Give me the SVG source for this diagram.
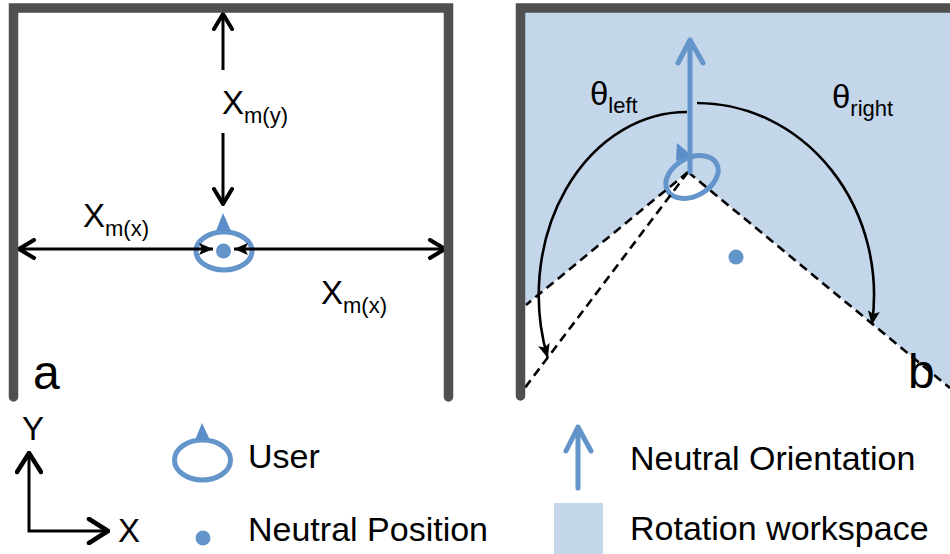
<svg xmlns="http://www.w3.org/2000/svg" width="950" height="554" viewBox="0 0 950 554">
<style>
  text { font-family: "Liberation Sans", Arial, sans-serif; fill: #000; }
  .wall { fill: none; stroke: #505050; stroke-width: 9.5; stroke-linejoin: miter; stroke-linecap: round; }
  .dim { fill: none; stroke: #000; stroke-width: 3; }
  .dash { fill: none; stroke: #000; stroke-width: 2.6; stroke-dasharray: 9 5.5; }
  .arc { fill: none; stroke: #000; stroke-width: 2.6; }
  .user { fill: none; stroke: #6394CA; stroke-width: 5; }
  .ptr { fill: #5B8EC9; }
  .dot { fill: #6394CA; }
  .orient { fill: none; stroke: #6394CA; stroke-width: 5; stroke-linecap: round; stroke-linejoin: round; }
  .ws { fill: #C4D6EA; }
  .big { font-size: 34px; }
  .main { font-size: 33px; }
  .sub { font-size: 22px; }
  .panel { font-size: 48px; }
</style>
<defs>
  <marker id="chev" viewBox="0 0 20 22" refX="18" refY="11" markerWidth="20" markerHeight="22" markerUnits="userSpaceOnUse" orient="auto-start-reverse">
    <path d="M3,2 L18,11 L3,20" fill="none" stroke="#000" stroke-width="4" stroke-linecap="round" stroke-linejoin="miter"/>
  </marker>
  <marker id="chevL" viewBox="0 0 24 28" refX="22" refY="14" markerWidth="24" markerHeight="28" markerUnits="userSpaceOnUse" orient="auto-start-reverse">
    <path d="M3,2 L22,14 L3,26" fill="none" stroke="#000" stroke-width="4.5" stroke-linecap="round" stroke-linejoin="miter"/>
  </marker>
  <marker id="stealth" viewBox="0 0 14 12" refX="14" refY="6" markerWidth="14" markerHeight="12" markerUnits="userSpaceOnUse" orient="auto-start-reverse">
    <path d="M0,0 L14,6 L0,12 L3,6 Z" fill="#000"/>
  </marker>
  <marker id="arcHead" viewBox="0 0 14 12" refX="13" refY="6" markerWidth="14" markerHeight="12" markerUnits="userSpaceOnUse" orient="auto">
    <path d="M0,0 L14,6 L0,12 L3,6 Z" fill="#000"/>
  </marker>
</defs>

<!-- Panel a -->
<g id="panel-a">
  <g id="a-user">
    <ellipse class="user" cx="224" cy="251" rx="28" ry="19"/>
    <polygon class="ptr" points="223,213 231,231 216,231"/>
    <circle class="dot" cx="223.5" cy="251" r="7.5"/>
  </g>
  <g id="a-connectors">
    <path class="dim" d="M223,70 L223,14" marker-end="url(#chev)"/>
    <path class="dim" d="M223,133 L223,204" marker-end="url(#chev)"/>
    <path class="dim" d="M19,249 L213,249" marker-start="url(#chev)" marker-end="url(#stealth)"/>
    <path class="dim" d="M445,249 L234,249" marker-start="url(#chev)" marker-end="url(#stealth)"/>
  </g>
  <g id="a-walls">
    <path class="wall" d="M13.5,397 L13.5,8 L448.5,8 L448.5,397"/>
  </g>
  <g id="a-labels">
    <text class="main" x="222" y="114">X<tspan class="sub" dy="9">m(y)</tspan></text>
    <text class="main" x="83" y="227">X<tspan class="sub" dy="9">m(x)</tspan></text>
    <text class="main" x="321" y="304">X<tspan class="sub" dy="9">m(x)</tspan></text>
    <text class="panel" x="33" y="389">a</text>
  </g>
</g>

<!-- Panel b -->
<g id="panel-b">
  <g id="b-workspace">
    <polygon class="ws" points="522,8 950,8 950,388 688,172 522,308"/>
  </g>
  <g id="b-user">
    <ellipse class="user" cx="692" cy="177" rx="28" ry="19" transform="rotate(-29 692 177)"/>
    <polygon class="ptr" points="677,143 691,155 676,161"/>
    <circle class="dot" cx="736" cy="257" r="7.5"/>
  </g>
  <g id="b-connectors">
    <path class="dash" d="M688,172 L526,305"/>
    <path class="dash" d="M688,172 L524,389"/>
    <path class="dash" d="M688,172 L950,388"/>
    <path class="arc" d="M687,112 A148,183 0 0,0 547.5,357" marker-end="url(#arcHead)"/>
    <path class="arc" d="M697,103 A177,192 0 0,1 872,324" marker-end="url(#arcHead)"/>
    <path class="orient" d="M690,172 L690,40 M678,63 L690,40 L703,63"/>
  </g>
  <g id="b-walls">
    <path class="wall" d="M520.5,396 L520.5,8 L960,8"/>
  </g>
  <g id="b-labels">
    <text class="main" x="590" y="105">θ<tspan class="sub" dy="8">left</tspan></text>
    <text class="main" x="832" y="108">θ<tspan class="sub" dy="8">right</tspan></text>
    <text class="panel" x="908" y="388">b</text>
  </g>
</g>

<!-- Legend -->
<g id="legend">
  <g id="legend-axes">
    <path class="dim" d="M29,453 L29,531 L108,531" marker-start="url(#chevL)" marker-end="url(#chevL)"/>
    <text class="main" x="22" y="440">Y</text>
    <text class="main" x="118" y="542">X</text>
  </g>
  <g id="legend-user">
    <ellipse class="user" cx="202.5" cy="460" rx="28" ry="20"/>
    <polygon class="ptr" points="202,423 210,440 195,440"/>
    <text class="big" x="248" y="468">User</text>
  </g>
  <g id="legend-position">
    <circle class="dot" cx="203" cy="538" r="7.5"/>
    <text class="big" x="248" y="541">Neutral Position</text>
  </g>
  <g id="legend-orientation">
    <path class="orient" d="M578,488 L578,427 M566,451 L578,427 L591,451"/>
    <text class="big" x="630" y="470">Neutral Orientation</text>
  </g>
  <g id="legend-workspace">
    <rect class="ws" x="554" y="503" width="49" height="51"/>
    <text class="big" x="630" y="540">Rotation workspace</text>
  </g>
</g>
</svg>
